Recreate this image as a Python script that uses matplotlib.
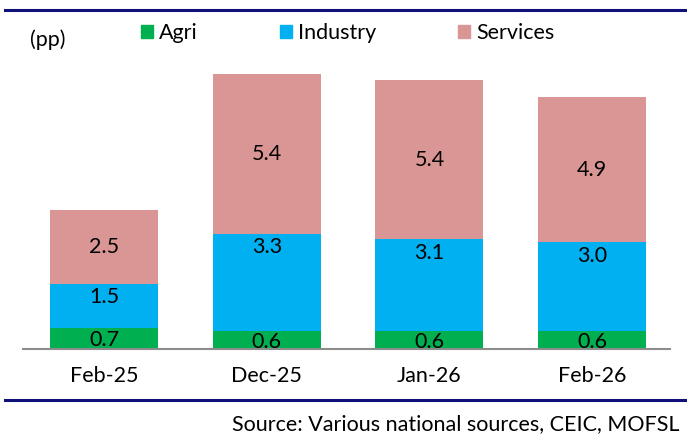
import numpy as np
import matplotlib
matplotlib.use('Agg')
from matplotlib import pyplot as plt
from matplotlib.patches import Patch
from matplotlib.lines import Line2D

######## data
months = ['Feb-25', 'Dec-25', 'Jan-26', 'Feb-26']
agri = [0.7, 0.6, 0.6, 0.6]
industry = [1.5, 3.3, 3.1, 3.0]
services = [2.5, 5.4, 5.4, 4.9]

c_agri = '#00B050'
c_ind = '#00B0F0'
c_serv = '#DA9694'
navy = '#10107A'

plt.rcParams['font.family'] = ['Lato', 'DejaVu Sans']

fig = plt.figure(figsize=(6.87, 4.34), dpi=100)
ax = fig.add_axes([23/687, 85/434, 647/687, 296/434])

x = np.arange(len(months))
w = 0.665
agri = np.array(agri)
industry = np.array(industry)
services = np.array(services)

ax.bar(x, agri, w, color=c_agri, label='Agri')
ax.bar(x, industry, w, bottom=agri, color=c_ind, label='Industry')
ax.bar(x, services, w, bottom=agri + industry, color=c_serv, label='Services')

fs = 15.5
for i in range(len(months)):
    ax.text(x[i], agri[i] / 2 - 0.05, f'{agri[i]:.1f}', ha='center', va='center', fontsize=fs)
    ax.text(x[i], agri[i] + industry[i] - 0.45, f'{industry[i]:.1f}', ha='center', va='center', fontsize=fs)
    ax.text(x[i], agri[i] + industry[i] + services[i] / 2, f'{services[i]:.1f}', ha='center', va='center', fontsize=fs)

ax.set_xlim(-0.5, 3.48)
ax.set_ylim(0, 10)
ax.set_xticks(x)
ax.set_xticklabels(months, fontsize=fs)
ax.tick_params(axis='x', length=0, pad=12)
ax.set_yticks([])
for s in ['top', 'right', 'left']:
    ax.spines[s].set_visible(False)
ax.spines['bottom'].set_color('#8C8C8C')
ax.spines['bottom'].set_linewidth(1.5)

# legend
handles = [Patch(color=c_agri), Patch(color=c_ind), Patch(color=c_serv)]
fig.legend(handles, ['Agri', 'Industry', 'Services'], loc='center left',
           bbox_to_anchor=(141/687, 1 - 33/434), ncol=3, frameon=False,
           fontsize=fs, handlelength=0.55, handleheight=0.55, handletextpad=0.3,
           columnspacing=3.8, borderaxespad=0, borderpad=0)
fig.text(30/687, 1 - 40/434, '(pp)', fontsize=fs, va='center', ha='left')

# frame lines
fig.add_artist(Line2D([5/687, 1], [1 - 10/434] * 2, color=navy, linewidth=2.2))
fig.add_artist(Line2D([5/687, 1], [1 - 400/434] * 2, color=navy, linewidth=2.2))

fig.text(680/687, 1 - 424/434, 'Source: Various national sources, CEIC, MOFSL',
         fontsize=fs, ha='right', va='center')

plt.savefig('out.png', dpi=100)
